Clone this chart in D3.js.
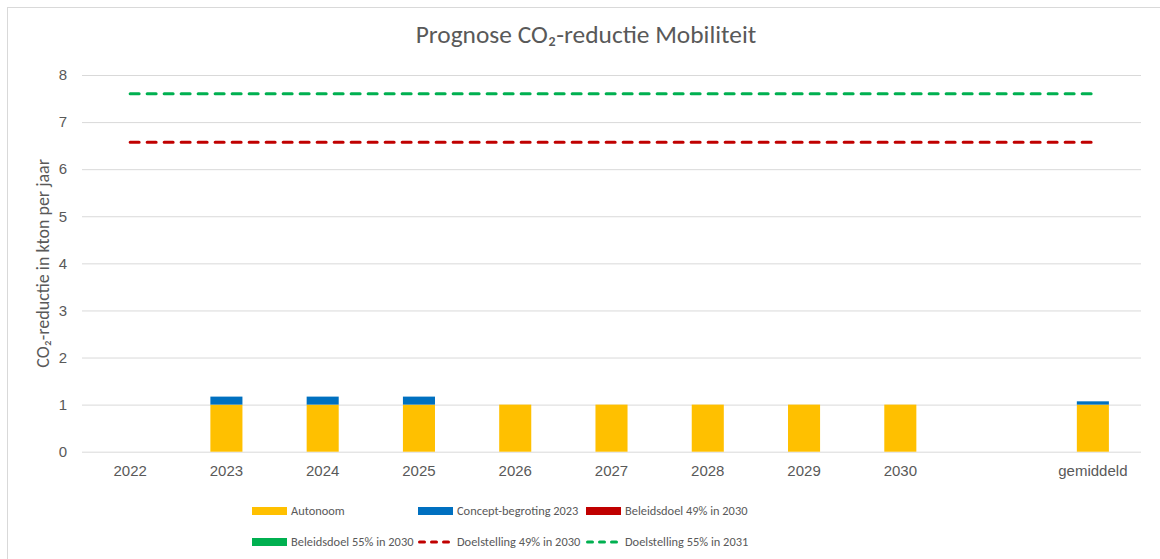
<!DOCTYPE html>
<html>
<head>
<meta charset="utf-8">
<script src="https://cdn.jsdelivr.net/npm/d3@7"></script>
<style>
  html, body { margin: 0; padding: 0; background: #fff; }
  svg { display: block; font-family: Carlito, Calibri, "Liberation Sans", Arial, sans-serif; }
</style>
</head>
<body>
<div id="chart"></div>
<script>
// categorieën op de x-as (lege kolom tussen 2030 en gemiddeld)
const categories = ["2022", "2023", "2024", "2025", "2026", "2027", "2028", "2029", "2030", "", "gemiddeld"];
const catKeys = categories.map((c, i) => c || "_leeg" + i);

// gestapelde staven (kton per jaar)
const autonoom = [0, 1, 1, 1, 1, 1, 1, 1, 1, 0, 1];
const conceptBegroting = [0, 0.17, 0.17, 0.17, 0, 0, 0, 0, 0, 0, 0.07];
const beleidsdoel49 = [0, 0, 0, 0, 0, 0, 0, 0, 0, 0, 0];
const beleidsdoel55 = [0, 0, 0, 0, 0, 0, 0, 0, 0, 0, 0];

// doelstellingen (lijnen)
const doelstelling49 = [6.57, 6.57, 6.57, 6.57, 6.57, 6.57, 6.57, 6.57, 6.57, 6.57, 6.57];
const doelstelling55 = [7.6, 7.6, 7.6, 7.6, 7.6, 7.6, 7.6, 7.6, 7.6, 7.6, 7.6];

const yTicks = [0, 1, 2, 3, 4, 5, 6, 7, 8];

const W = 1160, H = 559;
const plot = { left: 82, right: 1141, top: 75, bottom: 451.7 };
const textColor = "#595959";
const gridColor = "#d9d9d9";

const colors = {
  autonoom: "#FFC000",
  concept: "#0070C0",
  b49: "#C00000",
  b55: "#00B050"
};

const svg = d3.select("#chart").append("svg")
  .attr("width", W).attr("height", H);

// kader om de grafiek
svg.append("rect")
  .attr("x", 7.5).attr("y", 7.5)
  .attr("width", W).attr("height", H)
  .attr("fill", "#fff")
  .attr("stroke", gridColor);

const x = d3.scaleBand().domain(catKeys).range([plot.left, plot.right]).padding(0);
const y = d3.scaleLinear().domain([0, 8]).range([plot.bottom, plot.top]);
const barW = x.bandwidth() * 0.333;

// titel
svg.append("text")
  .attr("x", 586).attr("y", 43)
  .attr("text-anchor", "middle")
  .attr("font-size", 25.4)
  .attr("fill", textColor)
  .text("Prognose CO₂-reductie Mobiliteit");

// rasterlijnen + y-as labels
const yAxis = d3.axisLeft(y).tickValues(yTicks).tickSize(plot.left - plot.right).tickPadding(15);
const gy = svg.append("g").attr("transform", `translate(${plot.left},0)`).call(yAxis);
gy.select(".domain").remove();
gy.selectAll(".tick line").attr("stroke", gridColor);
gy.selectAll(".tick text").attr("fill", textColor).attr("font-size", 15).attr("font-family", null);

// y-as titel
svg.append("text")
  .attr("transform", `translate(49,${(plot.top + plot.bottom) / 2}) rotate(-90)`)
  .attr("text-anchor", "middle")
  .attr("font-size", 18)
  .attr("fill", textColor)
  .text("CO₂-reductie in kton per jaar");

// x-as labels
const xAxis = d3.axisBottom(x).tickSize(0).tickPadding(14).tickFormat((d, i) => categories[i]);
const gx = svg.append("g").attr("transform", `translate(0,${plot.bottom})`).call(xAxis);
gx.select(".domain").remove();
gx.selectAll(".tick text").attr("fill", textColor).attr("font-size", 15).attr("font-family", null);

// gestapelde staven
const rows = catKeys.map((k, i) => ({
  key: k,
  autonoom: autonoom[i],
  concept: conceptBegroting[i],
  b49: beleidsdoel49[i],
  b55: beleidsdoel55[i]
}));
const stack = d3.stack().keys(["autonoom", "concept", "b49", "b55"]);
const series = stack(rows);

svg.append("g").selectAll("g")
  .data(series)
  .join("g")
  .attr("fill", s => colors[s.key])
  .selectAll("rect")
  .data(s => s.filter(d => d[1] - d[0] > 0))
  .join("rect")
  .attr("x", d => x(d.data.key) + (x.bandwidth() - barW) / 2)
  .attr("width", barW)
  .attr("y", d => y(d[1]))
  .attr("height", d => y(d[0]) - y(d[1]));

// doelstellingslijnen
const line = d3.line()
  .x((d, i) => x(catKeys[i]) + x.bandwidth() / 2)
  .y(d => y(d));

[[doelstelling49, colors.b49], [doelstelling55, colors.b55]].forEach(([vals, c]) => {
  svg.append("path")
    .attr("d", line(vals))
    .attr("fill", "none")
    .attr("stroke", c)
    .attr("stroke-width", 3)
    .attr("stroke-linecap", "round")
    .attr("stroke-dasharray", "9,8");
});

// legenda
const legendItems = [
  { label: "Autonoom", color: colors.autonoom, type: "rect" },
  { label: "Concept-begroting 2023", color: colors.concept, type: "rect" },
  { label: "Beleidsdoel 49% in 2030", color: colors.b49, type: "rect" },
  { label: "Beleidsdoel 55% in 2030", color: colors.b55, type: "rect" },
  { label: "Doelstelling 49% in 2030", color: colors.b49, type: "dash" },
  { label: "Doelstelling 55% in 2031", color: colors.b55, type: "dash" }
];
const legCols = [252, 418, 586];
const legRows = [511, 542];

const leg = svg.append("g").selectAll("g")
  .data(legendItems)
  .join("g")
  .attr("transform", (d, i) => `translate(${legCols[i % 3]},${legRows[Math.floor(i / 3)]})`);

leg.filter(d => d.type === "rect").append("rect")
  .attr("x", 0).attr("y", -4)
  .attr("width", 35).attr("height", 8)
  .attr("fill", d => d.color);

leg.filter(d => d.type === "dash").append("line")
  .attr("x1", 1.5).attr("x2", 33.5)
  .attr("stroke", d => d.color)
  .attr("stroke-width", 3)
  .attr("stroke-linecap", "round")
  .attr("stroke-dasharray", "5,7");

leg.append("text")
  .attr("x", 39).attr("dy", "0.35em")
  .attr("font-size", 12.4)
  .attr("fill", textColor)
  .text(d => d.label);
</script>
</body>
</html>
